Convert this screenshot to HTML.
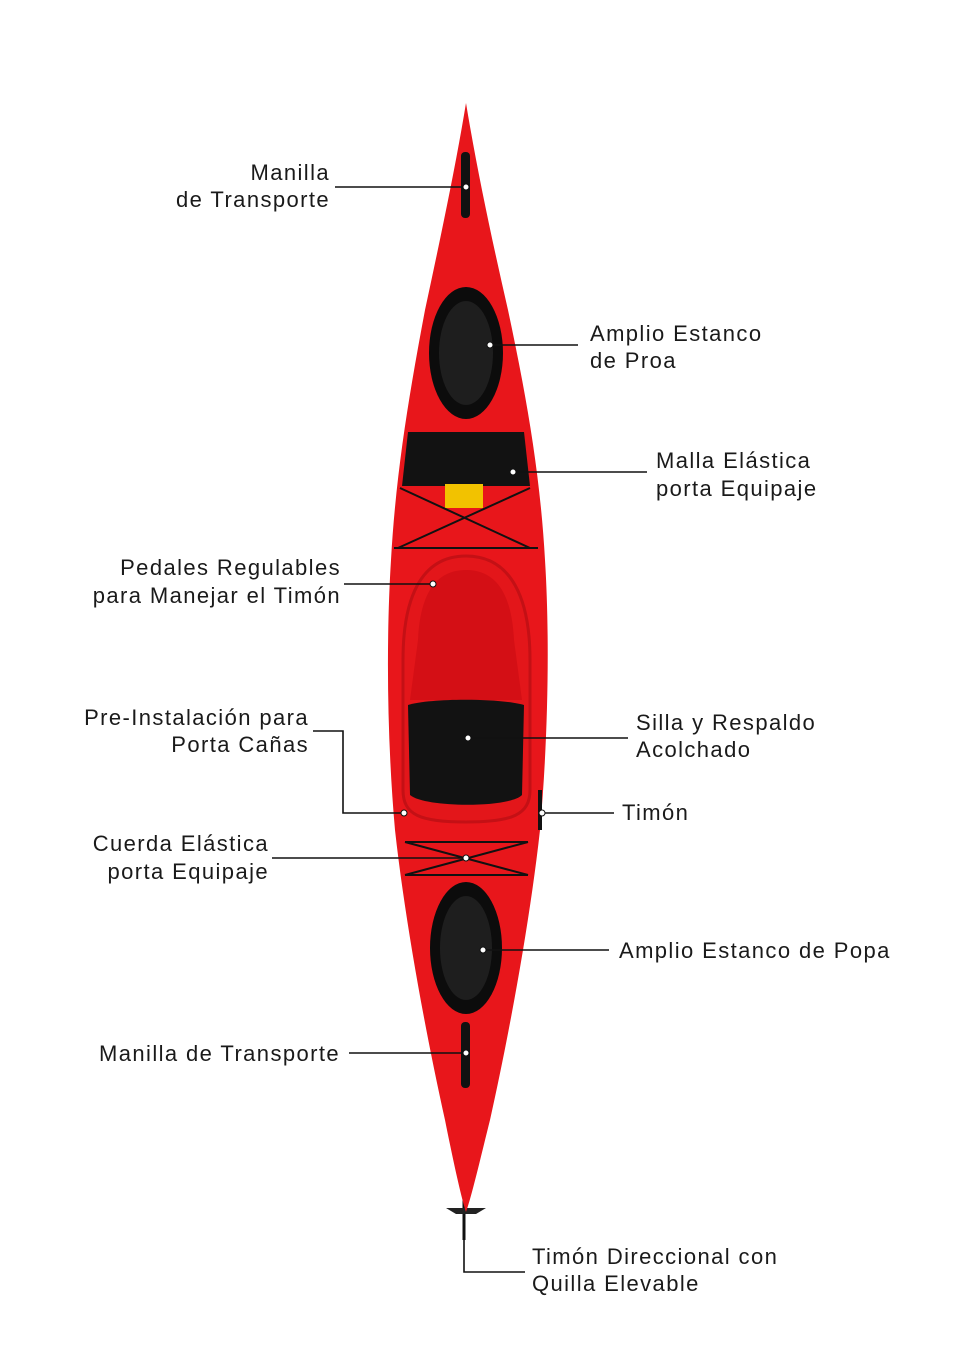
<!DOCTYPE html>
<html><head><meta charset="utf-8"><style>
html,body{margin:0;padding:0;background:#fff}
svg{display:block}
text{font-family:"Liberation Sans",sans-serif;font-size:22px;letter-spacing:1.4px;fill:#1a1a1a}
</style></head><body>
<svg width="980" height="1359" viewBox="0 0 980 1359" xmlns="http://www.w3.org/2000/svg">
<!-- rudder -->
<line x1="464" y1="1200" x2="464" y2="1240" stroke="#111" stroke-width="3"/>
<path d="M446 1208 L486 1208 L476 1214 L456 1214 Z" fill="#222"/>
<!-- hull -->
<path d="M466 103 C455 170 440 240 425 310 C410 390 396 470 391 560 C386 640 387 740 395 830 C405 920 425 1030 445 1120 C455 1170 462 1200 466 1212 C472 1195 480 1160 490 1120 C510 1030 530 920 540 830 C548 740 550 640 545 560 C540 470 525 390 508 310 C492 240 477 170 466 103 Z" fill="#e8161b"/>
<!-- front hatch -->
<ellipse cx="466" cy="353" rx="37" ry="66" fill="#0c0c0c"/>
<ellipse cx="466" cy="353" rx="27" ry="52" fill="#1e1e1e"/>
<!-- net -->
<path d="M408 432 L524 432 L530 486 L402 486 Z" fill="#121212"/>
<rect x="445" y="484" width="38" height="24" fill="#f2c200"/>
<path d="M400 488 L530 548 M530 488 L398 548 M394 548 L538 548" stroke="#111" stroke-width="2" fill="none"/>
<!-- cockpit -->
<path d="M466 556 C420 556 403 600 403 660 L403 790 C403 815 420 822 466 822 C512 822 530 815 530 790 L530 660 C530 600 512 556 466 556 Z" fill="#e3161a" stroke="#c41015" stroke-width="3"/>
<path d="M466 570 C432 570 420 600 418 640 L410 700 L522 700 L514 640 C512 600 500 570 466 570 Z" fill="#d40f15"/>
<path d="M408 705 C430 698 500 698 524 705 L522 795 C510 808 425 808 410 795 Z" fill="#121212"/>
<!-- rear bungee -->
<path d="M405 842 L528 842 M405 875 L528 875 M405 842 L528 875 M528 842 L405 875" stroke="#111" stroke-width="2"/>
<!-- rear hatch -->
<ellipse cx="466" cy="948" rx="36" ry="66" fill="#0c0c0c"/>
<ellipse cx="466" cy="948" rx="26" ry="52" fill="#1e1e1e"/>
<!-- handles -->
<rect x="461" y="152" width="9" height="66" rx="4" fill="#111"/>
<rect x="461" y="1022" width="9" height="66" rx="4" fill="#111"/>
<line x1="540" y1="790" x2="540" y2="830" stroke="#111" stroke-width="4"/>
<!-- leader lines -->
<g stroke="#111" stroke-width="1.6" fill="none">
<path d="M335 187 H466"/>
<path d="M490 345 H578"/>
<path d="M513 472 H647"/>
<path d="M344 584 H433"/>
<path d="M313 731 H343 V813 H404"/>
<path d="M468 738 H628"/>
<path d="M542 813 H614"/>
<path d="M272 858 H466"/>
<path d="M483 950 H609"/>
<path d="M349 1053 H466"/>
<path d="M464 1225 V1272 H525"/>
</g>
<g fill="#fff" stroke="#111" stroke-width="1">
<circle cx="466" cy="187" r="3"/><circle cx="490" cy="345" r="3"/><circle cx="513" cy="472" r="3"/>
<circle cx="433" cy="584" r="3"/><circle cx="404" cy="813" r="3"/><circle cx="468" cy="738" r="3"/>
<circle cx="542" cy="813" r="3"/><circle cx="466" cy="858" r="3"/><circle cx="483" cy="950" r="3"/>
<circle cx="466" cy="1053" r="3"/>
</g>
<!-- labels -->
<g text-anchor="end">
<text x="330" y="180">Manilla</text><text x="330" y="207">de Transporte</text>
<text x="341" y="575">Pedales Regulables</text><text x="341" y="603">para Manejar el Timón</text>
<text x="309" y="725">Pre-Instalación para</text><text x="309" y="752">Porta Cañas</text>
<text x="269" y="851">Cuerda Elástica</text><text x="269" y="879">porta Equipaje</text>
<text x="340" y="1061">Manilla de Transporte</text>
</g>
<text x="590" y="341">Amplio Estanco</text><text x="590" y="368">de Proa</text>
<text x="656" y="468">Malla Elástica</text><text x="656" y="496">porta Equipaje</text>
<text x="636" y="730">Silla y Respaldo</text><text x="636" y="757">Acolchado</text>
<text x="622" y="820">Timón</text>
<text x="619" y="958">Amplio Estanco de Popa</text>
<text x="532" y="1264">Timón Direccional con</text><text x="532" y="1291">Quilla Elevable</text>
</svg>
</body></html>
